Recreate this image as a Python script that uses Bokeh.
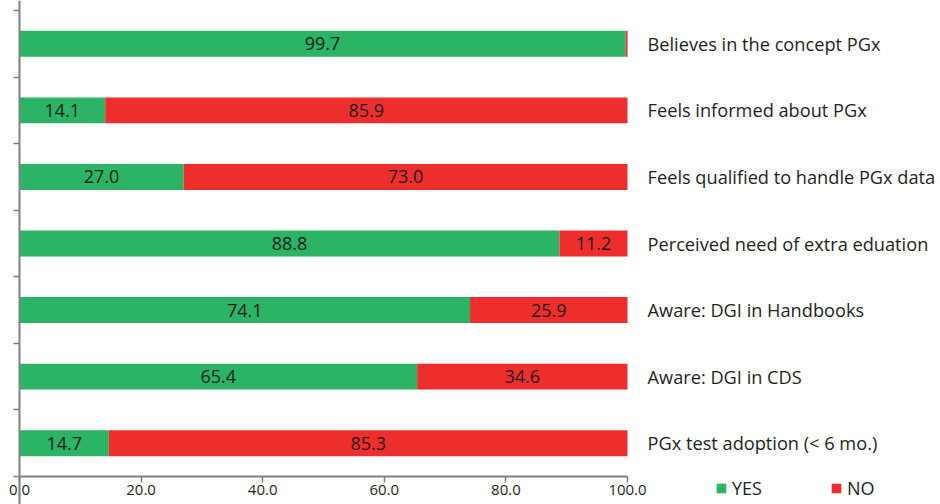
from bokeh.plotting import figure
from bokeh.models import Range1d, FixedTicker, NumeralTickFormatter, ColumnDataSource, Legend, LegendItem
from bokeh.core.properties import value
from bokeh.embed import file_html
from bokeh.resources import INLINE

categories = ["Believes in the concept PGx", "Feels informed about PGx",
              "Feels qualified to handle PGx data", "Perceived need of extra eduation",
              "Aware: DGI in Handbooks", "Aware: DGI in CDS", "PGx test adoption (< 6 mo.)"]
yes = [99.7, 14.1, 27.0, 88.8, 74.1, 65.4, 14.7]
no = [0.3, 85.9, 73.0, 11.2, 25.9, 34.6, 85.3]
x_ticks = [0, 20, 40, 60, 80, 100]
series = ["YES", "NO"]
colors = ["#2BB366", "#EE2E2D"]

FONT = "Open Sans"
TXT = "#231F20"
n = len(categories)
ypos = [n - i - 0.5 for i in range(n)]

src = ColumnDataSource(dict(
    y=ypos, yes=yes, no=no, total=[a + b for a, b in zip(yes, no)], cat=categories,
    yes_mid=[a / 2 for a in yes],
    yes_lbl=["%.1f" % a for a in yes],
))
no_idx = [i for i in range(n) if no[i] >= 1]
src_no = ColumnDataSource(dict(
    y=[ypos[i] for i in no_idx],
    mid=[yes[i] + no[i] / 2 for i in no_idx],
    lbl=["%.1f" % no[i] for i in no_idx],
))

XS = 6.08    # px per percent
YS = 466 / n  # px per category
p = figure(width=940, height=504, output_backend="svg", toolbar_location=None,
           x_range=Range1d(-19 / XS, 921 / XS), y_range=Range1d(-28 / YS, n + 10 / YS),
           min_border=0)
p.outline_line_color = None
p.grid.visible = False
p.background_fill_color = "white"
p.border_fill_color = "white"

r_yes = p.hbar(y="y", left=0, right="yes", height=0.39, source=src,
               fill_color=colors[0], line_color=None)
r_no = p.hbar(y="y", left="yes", right="total", height=0.39, source=src,
              fill_color=colors[1], line_color=None)

p.text(x="yes_mid", y="y", text="yes_lbl", source=src, text_align="center",
       text_baseline="middle", text_font=value(FONT), text_font_size="18px", text_color=TXT)
p.text(x="mid", y="y", text="lbl", source=src_no, text_align="center",
       text_baseline="middle", text_font=value(FONT), text_font_size="18px", text_color=TXT)
p.text(x=103.3, y="y", text="cat", source=src, text_align="left",
       text_baseline="middle", text_font=value(FONT), text_font_size="18.2px", text_color=TXT)

xa = p.xaxis[0]
xa.fixed_location = 0
xa.bounds = (0, 100)
xa.ticker = FixedTicker(ticks=x_ticks, minor_ticks=[])
xa.formatter = NumeralTickFormatter(format="0.0")
xa.axis_line_color = "#808080"
xa.axis_line_width = 2
xa.major_tick_line_color = "#808080"
xa.major_tick_line_width = 1.5
xa.major_tick_out = 6
xa.major_tick_in = 0
xa.minor_tick_line_color = None
xa.major_label_standoff = 2
xa.major_label_text_font = FONT
xa.major_label_text_font_size = "15px"
xa.major_label_text_color = TXT

ya = p.yaxis[0]
ya.fixed_location = 0
ya.ticker = FixedTicker(ticks=list(range(n + 1)), minor_ticks=[])
ya.major_label_overrides = {i: "" for i in range(n + 1)}
ya.major_label_text_font_size = "0px"
ya.major_label_standoff = 0
ya.axis_line_color = "#808080"
ya.axis_line_width = 2
ya.major_tick_line_color = "#808080"
ya.major_tick_line_width = 1.5
ya.major_tick_out = 6
ya.major_tick_in = 0
ya.minor_tick_line_color = None

legend = Legend(items=[LegendItem(label=series[0], renderers=[r_yes]),
                       LegendItem(label=series[1], renderers=[r_no])],
                orientation="horizontal", location=(715, 4),
                glyph_width=12, glyph_height=12, label_standoff=5, spacing=68,
                padding=0, margin=0, border_line_color=None, background_fill_alpha=0,
                label_text_font=FONT, label_text_font_size="18px", label_text_color=TXT,
                label_height=20)
p.add_layout(legend, "center")

open("out.html", "w").write(file_html(p, INLINE))
